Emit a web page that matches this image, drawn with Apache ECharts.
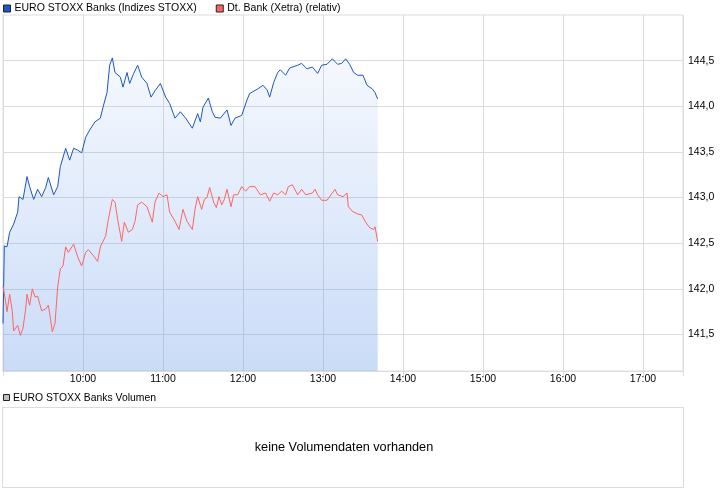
<!DOCTYPE html>
<html>
<head>
<meta charset="utf-8">
<script src="https://cdn.jsdelivr.net/npm/echarts@6/dist/echarts.min.js"></script>
<style>
html,body{margin:0;padding:0;background:#fff;}
#chart{width:726px;height:496px;}
</style>
</head>
<body>
<div id="chart"></div>
<script>
// ---- data ----
const seriesNames = ['EURO STOXX Banks (Indizes STOXX)', 'Dt. Bank (Xetra) (relativ)'];
const volumeTitle = 'EURO STOXX Banks Volumen';
const volumeNote = 'keine Volumendaten vorhanden';

const stoxxTimes = ['09:00','09:01','09:03','09:05','09:08','09:11','09:12','09:15','09:18','09:20','09:23','09:26','09:29','09:32','09:34','09:38','09:41','09:43','09:47','09:50','09:53','09:56','09:59','10:02','10:05','10:09','10:13','10:15','10:18','10:20','10:22','10:24','10:28','10:30','10:33','10:35','10:38','10:41','10:44','10:48','10:51','10:54','10:58','11:02','11:05','11:09','11:13','11:17','11:22','11:26','11:28','11:30','11:34','11:37','11:39','11:43','11:48','11:51','11:54','11:59','12:03','12:05','12:11','12:15','12:18','12:20','12:23','12:26','12:28','12:32','12:35','12:41','12:44','12:48','12:52','12:56','12:59','13:03','13:07','13:11','13:14','13:17','13:20','13:23','13:26','13:30','13:33','13:37','13:39','13:41'];
const stoxxValues = [141.62,142.47,142.46,142.62,142.71,142.84,143.01,142.98,143.23,143.12,142.98,143.09,143.01,143.11,143.22,143.03,143.12,143.34,143.54,143.41,143.54,143.52,143.49,143.66,143.74,143.83,143.87,143.99,144.15,144.45,144.53,144.37,144.32,144.21,144.37,144.25,144.36,144.45,144.32,144.25,144.10,144.17,144.25,144.10,144.03,143.87,143.94,143.87,143.76,143.92,143.83,143.99,144.09,143.94,143.88,143.87,143.96,143.79,143.87,143.90,144.07,144.14,144.19,144.23,144.18,144.10,144.26,144.37,144.40,144.34,144.42,144.45,144.47,144.41,144.43,144.36,144.45,144.46,144.52,144.46,144.47,144.52,144.46,144.37,144.34,144.34,144.23,144.19,144.15,144.08];

const dbTimes = ['09:00','09:02','09:03','09:05','09:07','09:08','09:11','09:13','09:15','09:17','09:18','09:20','09:22','09:24','09:26','09:29','09:32','09:34','09:35','09:37','09:39','09:41','09:43','09:45','09:47','09:49','09:53','09:56','09:59','10:02','10:04','10:08','10:11','10:13','10:17','10:19','10:22','10:24','10:26','10:29','10:31','10:34','10:37','10:39','10:41','10:44','10:48','10:52','10:54','10:57','11:00','11:03','11:05','11:09','11:12','11:15','11:18','11:22','11:24','11:26','11:29','11:31','11:33','11:35','11:38','11:40','11:42','11:44','11:46','11:48','11:51','11:53','11:56','11:59','12:02','12:05','12:09','12:13','12:17','12:20','12:23','12:26','12:29','12:32','12:34','12:37','12:41','12:44','12:47','12:52','12:54','12:56','12:59','13:03','13:07','13:09','13:11','13:15','13:18','13:19','13:22','13:26','13:29','13:32','13:35','13:38','13:39','13:41'];
const dbValues = [142.03,141.86,141.75,141.94,141.75,141.54,141.60,141.49,141.57,141.78,141.94,141.82,142.00,141.91,141.92,141.76,141.78,141.82,141.73,141.53,141.62,142.02,142.22,142.25,142.46,142.40,142.49,142.35,142.25,142.40,142.43,142.36,142.30,142.46,142.58,142.76,142.98,142.95,142.76,142.52,142.73,142.62,142.65,142.74,142.92,142.95,142.90,142.73,142.95,143.05,143.01,143.03,142.84,142.74,142.65,142.87,142.74,142.65,142.87,143.01,142.87,142.98,143.00,143.11,142.95,142.89,143.01,142.92,142.98,143.09,142.90,143.03,143.03,143.12,143.07,143.12,143.12,143.03,143.05,142.96,143.05,143.03,143.07,143.03,143.12,143.14,143.03,143.09,143.03,143.05,143.09,143.03,142.97,142.97,143.05,143.09,143.03,143.01,143.05,142.90,142.85,142.82,142.81,142.73,142.67,142.65,142.68,142.52];

const yTickValues = [141.5, 142.0, 142.5, 143.0, 143.5, 144.0, 144.5];
const xTickLabels = ['10:00','11:00','12:00','13:00','14:00','15:00','16:00','17:00'];

// ---- helpers ----
function toMin(s){ const p = s.split(':'); return (+p[0])*60 + (+p[1]); }
function pairs(times, vals){ return times.map((t,i)=>[toMin(t), vals[i]]); }
function fmtTime(m){ const h = Math.floor(m/60), mm = m%60; return (h<10?'0':'')+h+':'+(mm<10?'0':'')+mm; }

const FONT = 'Liberation Sans, Arial, sans-serif';
const FS = 10.5;
const chart = echarts.init(document.getElementById('chart'), null, {renderer:'canvas'});

chart.setOption({
  animation: false,
  backgroundColor: '#fff',
  textStyle: {fontFamily: FONT},
  legend: {
    left: 3, top: 3, padding: 0,
    icon: 'rect', itemWidth: 7, itemHeight: 7, itemGap: 19,
    textStyle: {fontSize: FS, color: '#000', fontFamily: FONT, padding:[0,0,0,-1]},
    itemStyle: {borderColor: '#222', borderWidth: 1},
    data: seriesNames,
    selectedMode: false
  },
  grid: {
    left: 3, top: 15, width: 680, height: 356,
    show: true, borderColor: '#dcdcdc', borderWidth: 1
  },
  xAxis: {
    type: 'value',
    min: toMin('09:00'), max: toMin('17:30'), interval: 60,
    axisLine: {show: true, lineStyle: {color: '#dcdcdc'}},
    axisTick: {show: true, length: 5, lineStyle: {color: '#dcdcdc'}},
    splitLine: {show: true, lineStyle: {color: '#dcdcdc', width: 1}},
    axisLabel: {
      color: '#000', fontSize: FS, margin: 3, fontFamily: FONT,
      formatter: function(v){ const s = fmtTime(v); return xTickLabels.indexOf(s) >= 0 ? s : ''; }
    }
  },
  yAxis: {
    type: 'value', position: 'right',
    min: 141.1, max: 145.0,
    axisLine: {show: false},
    axisTick: {show: false, customValues: yTickValues},
    splitLine: {show: true, lineStyle: {color: '#dcdcdc', width: 1}},
    axisLabel: {
      customValues: yTickValues,
      color: '#000', fontSize: FS, margin: 5, fontFamily: FONT,
      formatter: function(v){ return v.toFixed(1).replace('.', ','); }
    }
  },
  series: [
    {
      name: seriesNames[0], type: 'line', symbol: 'none',
      data: pairs(stoxxTimes, stoxxValues),
      lineStyle: {color: '#1c57c2', width: 1},
      itemStyle: {color: '#1c57c2'},
      areaStyle: {
        origin: 'start',
        color: new echarts.graphic.LinearGradient(0, 15, 0, 371, [
          {offset: 0, color: 'rgba(90,145,232,0.03)'},
          {offset: 1, color: 'rgba(90,145,232,0.46)'}
        ], true)
      },
      z: 2
    },
    {
      name: seriesNames[1], type: 'line', symbol: 'none',
      data: pairs(dbTimes, dbValues),
      lineStyle: {color: '#ff6464', width: 1},
      itemStyle: {color: '#ff6464'},
      z: 3
    }
  ],
  graphic: [
    {type: 'rect', shape: {x: 3.5, y: 394.5, width: 6, height: 6},
     style: {fill: '#c0c0c0', stroke: '#222', lineWidth: 1}},
    {type: 'text', x: 13, y: 398,
     style: {text: volumeTitle, font: '10.4px ' + FONT, fill: '#000', verticalAlign: 'middle'}},
    {type: 'rect', shape: {x: 2.5, y: 407.5, width: 681, height: 80},
     style: {fill: 'none', stroke: '#dcdcdc', lineWidth: 1}},
    {type: 'text', x: 344, y: 447,
     style: {text: volumeNote, font: '12.7px ' + FONT, fill: '#000', align: 'center', verticalAlign: 'middle'}}
  ]
});
</script>
</body>
</html>
